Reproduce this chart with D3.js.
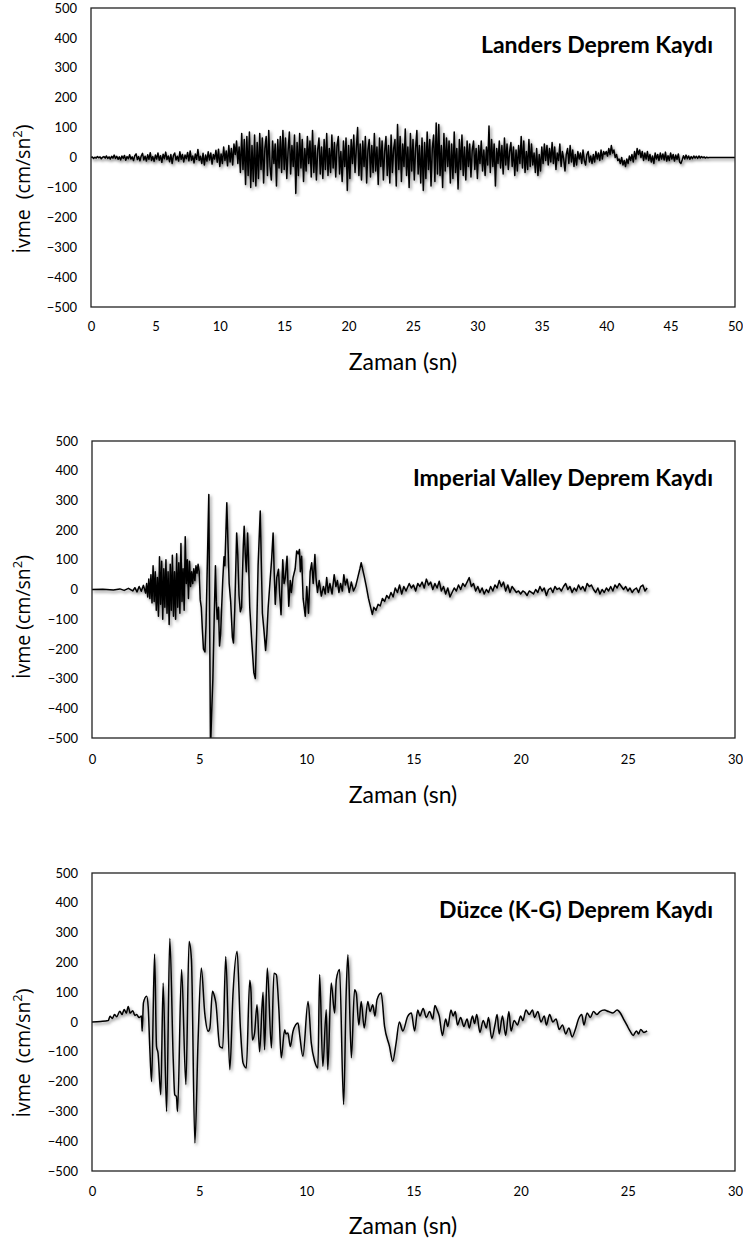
<!DOCTYPE html>
<html>
<head>
<meta charset="utf-8">
<script src="https://cdn.jsdelivr.net/npm/d3@7"></script>
<style>
  body { margin: 0; background: #fff; }
  svg { display: block; }
</style>
</head>
<body>
<svg id="chart" width="743" height="1243"></svg>
<script>

// ---- data ----

// Landers record, one value every 0.1 s from 0 to 50 s (cm/sn2)
var landersStep = 0.1;
var landersAccel = [
  0,2,-3,1,-2,3,-1,2,-4,1,
  3,-2,5,-3,2,-5,4,-2,8,-3,
  4,-6,2,-8,5,-3,7,-9,3,-4,
  9,-5,2,-10,6,12,-7,3,-11,5,
  14,-8,4,-12,9,-6,16,-10,3,-13,
  8,-5,15,-9,6,-16,11,-4,18,-7,
  5,-14,10,-20,7,15,-8,4,-12,19,
  -6,10,-15,8,-4,17,-11,22,-9,5,
  -18,12,-6,27,-10,4,-20,14,-25,8,
  -12,19,-8,15,-22,10,-5,24,-16,28,
  -30,12,-20,35,-10,22,-28,40,-15,30,
  -25,45,10,55,-20,35,-50,80,-40,60,
  -90,70,-60,85,-100,40,-80,75,-95,50,
  -70,80,-40,65,-85,30,70,-60,90,-30,
  -75,55,-20,45,-95,60,-35,70,-50,90,
  -40,65,-70,20,85,-55,40,-30,75,-120,
  50,-60,80,-35,60,-80,30,-45,70,-20,
  55,-65,90,-50,40,-75,25,65,-55,35,
  -70,60,-40,80,-60,30,-50,75,-35,50,
  -65,40,70,-55,20,-80,55,-30,65,-110,
  40,-70,60,-20,75,-50,30,100,-60,45,
  -75,55,-30,70,-85,25,60,-65,40,-50,
  80,-45,35,-90,65,-30,55,-75,20,70,
  -60,40,-85,75,-50,30,60,-95,110,-40,
  70,-80,45,-30,95,-60,35,-100,80,-45,
  60,-75,30,90,-55,40,-85,65,-110,50,
  -70,85,-40,60,-95,30,75,-80,115,-55,
  110,-60,40,-100,80,-45,65,-30,55,-85,
  45,-70,85,-50,30,-105,60,-40,75,-60,
  35,-75,55,-30,45,-65,25,55,-40,30,
  -70,40,-20,55,-45,25,-60,35,-25,105,
  -50,60,-30,45,-95,30,-20,55,-35,40,
  -55,65,-25,45,-40,20,50,-30,35,-60,
  25,-45,40,-20,70,-35,55,-50,20,-40,
  60,-30,45,-25,15,-50,30,-60,10,-45,
  35,-20,45,-10,40,-25,30,-15,50,-20,
  35,-40,15,-10,45,-30,20,-5,-45,10,
  30,-20,40,-15,25,-30,10,-25,20,-5,
  15,-20,25,-10,-25,10,20,-15,5,-20,
  10,-15,20,-5,15,-10,25,-5,20,10,
  20,5,30,10,40,15,25,0,10,-10,
  -5,-20,0,-25,-10,-30,-5,-20,5,-10,
  10,-15,20,-5,30,10,25,0,20,-10,
  15,-5,20,-10,10,-15,5,-20,15,-5,
  10,-10,15,-5,12,-8,18,-12,6,-10,
  15,-5,10,-12,8,-6,12,-15,-20,-8,
  6,-5,8,-4,5,-6,3,-4,5,-2,
  4,-3,5,-2,3,-1,2,-2,1,-1,
  0,0,0,0,0,0,0,0,0,0,
  0,0,0,0,0,0,0,0,0,0,
  0
];

// Imperial Valley record, [time (sn), accel (cm/sn2)]
var imperialRecord = [
  [0,0],[0.5,1],[1.0,-2],[1.3,2],[1.5,-3],[1.7,4],[1.9,-5],[2.0,6],[2.1,-8],[2.2,10],[2.3,-6],[2.4,14],[2.5,-12],
  [2.55,20],[2.6,-25],[2.65,35],[2.7,-30],[2.75,50],[2.8,-45],[2.85,80],[2.9,-40],[2.95,60],[3.0,-70],[3.05,40],
  [3.1,-90],[3.15,110],[3.2,-50],[3.25,95],[3.3,-100],[3.35,70],[3.4,-60],[3.45,100],[3.5,-80],[3.55,60],
  [3.6,-118],[3.65,85],[3.7,-70],[3.75,115],[3.8,-90],[3.85,60],[3.9,-100],[3.95,120],[4.0,-60],[4.05,90],
  [4.1,-80],[4.15,155],[4.2,-40],[4.25,70],[4.3,-70],[4.35,178],[4.4,20],[4.45,100],[4.5,-30],[4.55,95],
  [4.6,10],[4.65,60],[4.7,20],[4.75,70],[4.8,30],[4.85,80],[4.9,55],[4.95,85],[5.0,60],[5.05,-35],[5.1,-60],
  [5.15,-135],[5.2,-200],[5.27,-210],[5.32,-120],[5.45,320],[5.53,-540],[5.58,-420],[5.64,-300],[5.7,-100],
  [5.76,80],[5.8,-40],[5.84,-100],[5.9,-60],[5.95,-190],[6.0,-150],[6.05,-60],[6.1,30],[6.16,110],[6.2,80],
  [6.29,292],[6.35,140],[6.4,20],[6.47,-40],[6.55,-160],[6.6,-180],[6.66,-70],[6.75,190],[6.8,120],[6.86,-20],
  [6.92,-75],[6.98,-60],[7.06,150],[7.1,213],[7.15,120],[7.2,60],[7.26,190],[7.3,110],[7.36,-60],[7.45,-170],
  [7.55,-280],[7.62,-300],[7.68,-150],[7.75,80],[7.85,264],[7.9,90],[7.95,-80],[8.02,-135],[8.1,-205],
  [8.16,-150],[8.22,-60],[8.3,20],[8.38,100],[8.45,190],[8.5,60],[8.55,-50],[8.62,40],[8.7,68],[8.76,-20],
  [8.82,-85],[8.9,100],[8.96,20],[9.02,40],[9.1,112],[9.18,-56],[9.25,30],[9.3,-10],[9.38,40],[9.48,70],
  [9.55,130],[9.62,120],[9.68,135],[9.72,60],[9.78,112],[9.85,-30],[9.95,-90],[10.02,10],[10.1,-80],
  [10.18,60],[10.25,90],[10.32,20],[10.4,118],[10.45,40],[10.52,-10],[10.6,30],[10.7,-22],[10.8,10],
  [10.88,-15],[10.95,40],[11.02,-10],[11.1,20],[11.2,-15],[11.3,50],[11.38,10],[11.45,30],[11.52,-10],
  [11.6,20],[11.68,-5],[11.75,50],[11.82,15],[11.9,35],[12.0,-10],[12.1,25],[12.2,-5],[12.3,10],[12.4,40],
  [12.5,70],[12.56,90],[12.62,70],[12.7,45],[12.8,10],[12.9,-30],[13.0,-60],[13.08,-84],[13.15,-60],
  [13.25,-70],[13.35,-50],[13.45,-55],[13.55,-30],[13.65,-40],[13.75,-20],[13.85,-30],[13.95,-10],
  [14.05,-25],[14.15,5],[14.25,-10],[14.35,15],[14.45,-15],[14.55,10],[14.65,-5],[14.8,20],[14.9,5],
  [15.0,15],[15.1,-5],[15.2,20],[15.3,10],[15.4,25],[15.5,5],[15.6,35],[15.7,15],[15.8,25],[15.9,0],
  [16.0,20],[16.1,5],[16.2,28],[16.3,-5],[16.4,10],[16.5,-15],[16.6,5],[16.7,-25],[16.8,-10],[16.9,5],
  [17.0,-5],[17.1,15],[17.2,0],[17.3,20],[17.4,10],[17.5,25],[17.6,40],[17.7,10],[17.8,20],[17.9,-5],
  [18.0,10],[18.1,-10],[18.2,5],[18.3,-15],[18.4,0],[18.5,-10],[18.6,10],[18.7,-5],[18.8,15],[18.9,5],
  [19.0,30],[19.1,10],[19.2,25],[19.3,-5],[19.4,15],[19.5,-10],[19.6,10],[19.7,0],[19.8,-10],[19.9,-5],
  [20.0,-15],[20.1,-5],[20.2,-10],[20.3,-20],[20.4,-5],[20.5,-10],[20.6,-15],[20.7,0],[20.8,-10],[20.9,10],
  [21.0,-5],[21.1,5],[21.2,-20],[21.3,0],[21.4,5],[21.5,-10],[21.6,10],[21.7,0],[21.8,5],[21.9,-5],
  [22.0,10],[22.1,20],[22.2,0],[22.3,10],[22.4,-10],[22.5,5],[22.6,-5],[22.7,15],[22.8,0],[22.9,10],
  [23.0,-5],[23.1,20],[23.2,10],[23.3,15],[23.4,0],[23.5,-10],[23.6,5],[23.7,-15],[23.8,0],[23.9,-10],
  [24.0,5],[24.1,-5],[24.2,10],[24.3,-5],[24.4,15],[24.5,5],[24.6,20],[24.7,10],[24.8,0],[24.9,10],
  [25.0,-5],[25.1,5],[25.2,-10],[25.3,0],[25.4,5],[25.5,-10],[25.6,10],[25.7,15],[25.8,-5],[25.9,5]
];

// Duzce (K-G) record, [time (sn), accel (cm/sn2)]
var duzceRecord = [
  [0,0],[0.4,2],[0.76,5],[0.84,19],[0.95,12],[1.05,25],[1.15,18],[1.3,36],[1.4,25],[1.5,42],[1.6,30],
  [1.69,52],[1.78,30],[1.9,38],[2.0,22],[2.08,25],[2.2,15],[2.31,20],[2.34,-31],[2.4,64],[2.55,86],
  [2.62,52],[2.7,-93],[2.78,-200],[2.92,228],[3.01,-82],[3.08,-104],[3.21,-244],[3.32,131],[3.48,-300],
  [3.63,280],[3.79,-126],[3.86,-244],[3.94,-250],[3.99,-300],[4.18,176],[4.38,-210],[4.53,270],[4.64,209],
  [4.8,-406],[4.95,-59],[5.1,181],[5.26,30],[5.42,-31],[5.5,-20],[5.62,103],[5.7,90],[5.78,64],[5.96,-82],
  [6.1,-87],[6.24,220],[6.43,-160],[6.58,97],[6.77,237],[6.92,-15],[7.05,-138],[7.2,-154],[7.36,140],
  [7.42,100],[7.48,-60],[7.58,-40],[7.7,58],[7.82,-100],[7.98,100],[8.05,-93],[8.18,181],[8.37,-87],
  [8.49,164],[8.6,159],[8.72,41],[8.83,-120],[8.99,-26],[9.05,-40],[9.14,-37],[9.25,-82],[9.38,-31],
  [9.5,-10],[9.61,-3],[9.7,-50],[9.84,-115],[10.08,69],[10.23,-70],[10.39,-132],[10.54,-154],[10.62,159],
  [10.77,-149],[10.93,41],[11.0,-160],[11.16,131],[11.32,30],[11.4,142],[11.55,176],[11.74,-277],
  [11.86,100],[11.94,226],[12.1,-120],[12.25,108],[12.33,97],[12.45,-10],[12.56,69],[12.7,-20],[12.87,69],
  [12.97,35],[13.1,58],[13.2,20],[13.3,75],[13.49,97],[13.65,-15],[13.88,-82],[14.03,-132],[14.19,-70],
  [14.34,0],[14.5,-30],[14.73,19],[14.9,30],[15.05,-30],[15.2,40],[15.3,20],[15.45,45],[15.6,15],
  [15.75,35],[15.9,10],[16.0,55],[16.1,40],[16.2,20],[16.35,-45],[16.5,10],[16.6,-15],[16.75,40],[16.85,20],
  [16.95,35],[17.05,-10],[17.2,15],[17.35,-15],[17.5,10],[17.6,-20],[17.75,20],[17.85,-5],[17.95,25],
  [18.1,-35],[18.25,5],[18.4,-20],[18.5,15],[18.65,-55],[18.8,-10],[18.9,25],[19.0,-40],[19.15,20],
  [19.3,-45],[19.45,35],[19.55,-30],[19.7,5],[19.85,-10],[20.0,20],[20.1,5],[20.25,40],[20.4,25],[20.55,40],
  [20.65,15],[20.8,35],[20.95,0],[21.1,20],[21.2,-10],[21.35,25],[21.5,0],[21.65,10],[21.8,-25],[21.95,-10],
  [22.1,-40],[22.25,-20],[22.4,-50],[22.55,-25],[22.7,10],[22.85,25],[22.95,-10],[23.1,30],[23.25,15],
  [23.4,35],[23.55,25],[23.7,35],[23.9,40],[24.1,35],[24.3,30],[24.5,40],[24.65,30],[24.8,10],[24.95,-10],
  [25.1,-30],[25.25,-45],[25.4,-30],[25.5,-40],[25.6,-25],[25.75,-35],[25.9,-30]
];

var yTicks = [-500, -400, -300, -200, -100, 0, 100, 200, 300, 400, 500];
var xTicksLanders = [0, 5, 10, 15, 20, 25, 30, 35, 40, 45, 50];
var xTicksShort = [0, 5, 10, 15, 20, 25, 30];

var titles = ["Landers Deprem Kaydı", "Imperial Valley Deprem Kaydı", "Düzce (K-G) Deprem Kaydı"];
var yLabelWords = ["İvme\u00a0\u00a0(cm/sn", "İvme (cm/sn", "İvme\u00a0\u00a0(cm/sn"];
var xLabel = "Zaman (sn)";

// ---- drawing ----

var svg = d3.select("#chart");

// soft shadow under the trace, like the office chart effect
var defs = svg.append("defs");
var shadow = defs.append("filter")
  .attr("id", "trace_shadow")
  .attr("x", "-5%").attr("y", "-5%")
  .attr("width", "110%").attr("height", "110%");
shadow.append("feDropShadow")
  .attr("dx", 1.5).attr("dy", 2)
  .attr("stdDeviation", 1.7)
  .attr("flood-color", "#000")
  .attr("flood-opacity", 0.5);

var panels = [
  { id: "landers", data: landersAccel.map(function (a, i) { return [i * landersStep, a]; }),
    curve: d3.curveLinear,
    xMax: 50, xTicks: xTicksLanders, left: 91, right: 735, top: 8, bottom: 307,
    tickGap: 15, labelY: 370, yLabelY: 189 },
  { id: "imperial", data: imperialRecord, curve: d3.curveLinear,
    xMax: 30, xTicks: xTicksShort, left: 92, right: 735, top: 441, bottom: 738,
    tickGap: 17, labelY: 803, yLabelY: 617 },
  { id: "duzce", data: duzceRecord, curve: d3.curveMonotoneX,
    xMax: 30, xTicks: xTicksShort, left: 92, right: 735, top: 873, bottom: 1171,
    tickGap: 16, labelY: 1234, yLabelY: 1053 }
];

panels.forEach(function (p, k) {

  var x = d3.scaleLinear().domain([0, p.xMax]).range([p.left, p.right]);
  var y = d3.scaleLinear().domain([-500, 500]).range([p.bottom, p.top]);

  var g = svg.append("g").attr("class", "panel_" + p.id);

  defs.append("clipPath")
    .attr("id", "clip_" + p.id)
    .append("rect")
    .attr("x", p.left).attr("y", p.top)
    .attr("width", p.right - p.left).attr("height", p.bottom - p.top);

  // the trace
  var line = d3.line()
    .curve(p.curve)
    .x(function (d) { return x(d[0]); })
    .y(function (d) { return y(d[1]); });

  g.append("g")
    .attr("clip-path", "url(#clip_" + p.id + ")")
    .append("path")
    .datum(p.data)
    .attr("d", line)
    .attr("fill", "none")
    .attr("stroke", "#000")
    .attr("stroke-width", 1.5)
    .attr("stroke-linejoin", "round")
    .attr("filter", "url(#trace_shadow)");

  // plot frame
  g.append("rect")
    .attr("x", p.left).attr("y", p.top)
    .attr("width", p.right - p.left).attr("height", p.bottom - p.top)
    .attr("fill", "none")
    .attr("stroke", "#222")
    .attr("stroke-width", 1.3);

  // y tick labels
  var yAxis = g.append("g")
    .attr("transform", "translate(" + (p.left - 14) + ",0)")
    .call(d3.axisLeft(y).tickValues(yTicks).tickSize(0).tickPadding(0));
  yAxis.select(".domain").remove();
  yAxis.selectAll("text")
    .attr("font-family", "Lato, 'Open Sans', sans-serif")
    .attr("font-size", 13)
    .attr("fill", "#000");

  // x tick labels
  var xAxis = g.append("g")
    .attr("transform", "translate(0," + (p.bottom + p.tickGap) + ")")
    .call(d3.axisBottom(x).tickValues(p.xTicks).tickSize(0).tickPadding(0));
  xAxis.select(".domain").remove();
  xAxis.selectAll("text")
    .attr("font-family", "Lato, 'Open Sans', sans-serif")
    .attr("font-size", 13)
    .attr("fill", "#000");

  // title inside the plot, top right
  g.append("text")
    .attr("x", 713)
    .attr("y", p.top + 45)
    .attr("text-anchor", "end")
    .attr("font-family", "Lato, 'Open Sans', sans-serif")
    .attr("font-weight", "bold")
    .attr("font-size", 23)
    .attr("fill", "#000")
    .text(titles[k]);

  // x axis label
  g.append("text")
    .attr("x", 403)
    .attr("y", p.labelY)
    .attr("text-anchor", "middle")
    .attr("font-family", "Lato, 'Open Sans', sans-serif")
    .attr("font-size", 23)
    .attr("fill", "#000")
    .text(xLabel);

  // y axis label with superscript 2
  var yl = g.append("text")
    .attr("transform", "translate(30," + p.yLabelY + ") rotate(-90)")
    .attr("text-anchor", "middle")
    .attr("font-family", "'Open Sans', sans-serif")
    .attr("font-size", 19.5)
    .attr("fill", "#000");
  yl.append("tspan").text(yLabelWords[k]);
  yl.append("tspan").attr("font-size", 13).attr("dy", -8).text("2");
  yl.append("tspan").attr("dy", 8).text(")");
});

</script>
</body>
</html>
